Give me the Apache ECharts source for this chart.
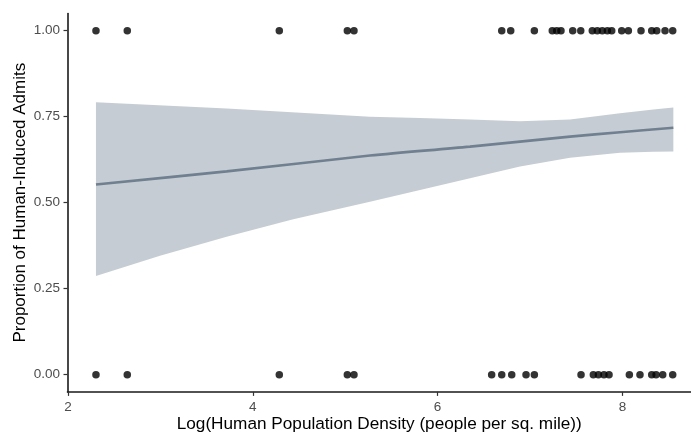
<!DOCTYPE html>
<html>
<head>
<meta charset="utf-8">
<script src="https://cdn.jsdelivr.net/npm/echarts@6/dist/echarts.min.js"></script>
<style>html,body{margin:0;padding:0;background:#fff;overflow:hidden}#c{width:691px;height:434px}</style>
</head>
<body>
<div id="c"></div>
<script>
// Observations with outcome 1 (human-induced) and 0
const xOnes = [2.303, 2.642, 4.287, 5.023, 5.095, 6.694, 6.791, 7.047, 7.241, 7.289, 7.335, 7.462, 7.549, 7.674, 7.728, 7.782, 7.837, 7.884, 7.992, 8.064, 8.201, 8.317, 8.371, 8.461, 8.544];
const xZeros = [2.303, 2.642, 4.287, 5.023, 5.095, 6.585, 6.694, 6.802, 6.957, 7.047, 7.552, 7.685, 7.740, 7.800, 7.855, 8.075, 8.190, 8.317, 8.364, 8.436, 8.544];
// Fitted line
const fitX = [2.303, 3.717, 5.268, 6.351, 7.433, 7.974, 8.551];
const fitY = [0.553, 0.591, 0.637, 0.663, 0.692, 0.705, 0.718];
// Confidence band edges
const upperX = [2.303, 3.717, 5.268, 5.810, 6.351, 6.892, 7.433, 7.974, 8.335, 8.551];
const upperY = [0.792, 0.774, 0.750, 0.746, 0.742, 0.737, 0.742, 0.760, 0.771, 0.777];
const lowerX = [2.303, 2.996, 3.717, 4.438, 5.268, 5.810, 6.351, 6.892, 7.433, 7.974, 8.335, 8.551];
const lowerY = [0.287, 0.346, 0.401, 0.452, 0.503, 0.537, 0.571, 0.605, 0.631, 0.645, 0.648, 0.649];
const xTicks = [2, 4, 6, 8];
const yTicks = [0, 0.25, 0.5, 0.75, 1];

const chart = echarts.init(document.getElementById('c'), null, {renderer: 'canvas'});
const font = 'Liberation Sans, Arial, Helvetica, sans-serif';
const pts = [];
xOnes.forEach(x => pts.push([x, 1]));
xZeros.forEach(x => pts.push([x, 0]));

chart.setOption({
  animation: false,
  backgroundColor: '#fff',
  grid: {left: 67.5, right: 0, top: 13.5, bottom: 42.1, containLabel: false, outerBoundsMode: 'none'},
  xAxis: {
    type: 'value', min: 1.995, max: 8.742,
    name: 'Log(Human Population Density (people per sq. mile))',
    nameLocation: 'middle', nameGap: 24, nameMoveOverlap: false,
    nameTextStyle: {color: '#000', fontSize: 17.2, fontFamily: font},
    axisLine: {show: true, onZero: false, lineStyle: {color: '#1a1a1a', width: 1.6}},
    axisTick: {show: true, length: 4, lineStyle: {color: '#333', width: 1.2}, customValues: xTicks},
    axisLabel: {color: '#4d4d4d', fontSize: 13.5, fontFamily: font, margin: 8, customValues: xTicks},
    splitLine: {show: false}
  },
  yAxis: {
    type: 'value', min: -0.05, max: 1.05,
    name: 'Proportion of Human-Induced Admits',
    nameLocation: 'middle', nameGap: 39, nameMoveOverlap: false,
    nameTextStyle: {color: '#000', fontSize: 17, fontFamily: font},
    axisLine: {show: true, onZero: false, lineStyle: {color: '#1a1a1a', width: 1.6}},
    axisTick: {show: true, length: 4, lineStyle: {color: '#333', width: 1.2}, customValues: yTicks},
    axisLabel: {color: '#4d4d4d', fontSize: 13.5, fontFamily: font, margin: 7.5, customValues: yTicks,
      formatter: v => v.toFixed(2)},
    splitLine: {show: false}
  },
  series: [
    {
      type: 'custom',
      clip: true,
      z: 1,
      data: [[upperX[0], upperY[0]]],
      renderItem: function (params, api) {
        const poly = [];
        for (let i = 0; i < upperX.length; i++) poly.push(api.coord([upperX[i], upperY[i]]));
        for (let i = lowerX.length - 1; i >= 0; i--) poly.push(api.coord([lowerX[i], lowerY[i]]));
        return {type: 'polygon', shape: {points: poly}, style: {fill: 'rgba(112,128,144,0.4)'}};
      },
      encode: {x: 0, y: 1},
      silent: true
    },
    {
      type: 'line',
      z: 2,
      data: fitX.map((x, i) => [x, fitY[i]]),
      showSymbol: false,
      smooth: 0.3,
      lineStyle: {color: '#708090', width: 2.6},
      silent: true
    },
    {
      type: 'scatter',
      z: 3,
      data: pts,
      symbolSize: 7.5,
      itemStyle: {color: '#000'},
      silent: true
    }
  ]
});
</script>
</body>
</html>
